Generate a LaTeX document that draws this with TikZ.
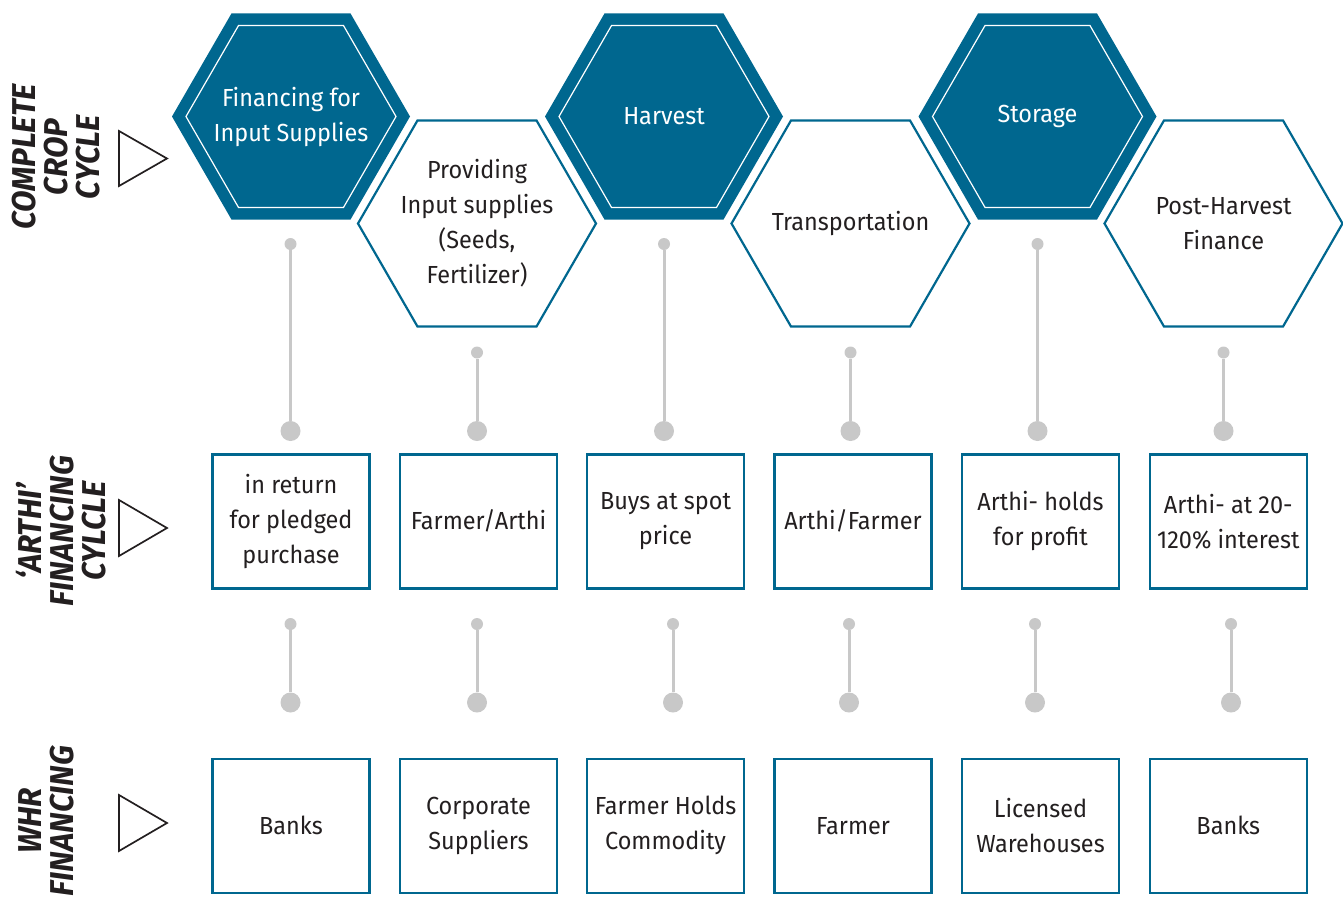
\documentclass[tikz,border=0pt]{standalone}
\usepackage{fontspec}
\setmainfont{Fira Sans}[FakeStretch=0.95]
\usetikzlibrary{shapes.geometric}
\definecolor{tealblue}{RGB}{0,103,143}
\definecolor{dotgrey}{RGB}{200,200,200}
\definecolor{ink}{RGB}{35,31,32}

\begin{document}
\begin{tikzpicture}[x=1pt,y=-1pt,
    hexfill/.style = {regular polygon, regular polygon sides=6, minimum size=238pt,
            inner sep=0pt, fill=tealblue},
    hexin/.style = {regular polygon, regular polygon sides=6, minimum size=210pt,
            inner sep=0pt, draw=white, line width=1.2pt},
    hexline/.style = {regular polygon, regular polygon sides=6, minimum size=238pt,
            inner sep=0pt, draw=tealblue, line width=2.2pt},
    hextext/.style = {align=center, text=#1, inner sep=0pt},
    stage/.style = {rectangle, draw=tealblue, line width=2.4pt, minimum width=157pt,
            minimum height=134pt, inner sep=0pt, text=ink, align=center},
    sdot/.style = {circle, fill=dotgrey, minimum size=12pt, inner sep=0pt},
    bdot/.style = {circle, fill=dotgrey, minimum size=20pt, inner sep=0pt},
    link/.style = {draw=dotgrey, line width=3pt},
    side/.style = {rotate=90, align=center, text=ink,
            font=\fontsize{33}{32}\selectfont\bfseries\itshape},
    tri/.style = {draw=ink, line width=1.7pt, line join=miter},
    font=\fontsize{24.7}{35}\selectfont]
    \useasboundingbox (0,0) rectangle (1343,897);
    % crop cycle
    \node[hexfill] (fin) at (291,116.5) {};
    \node[hexin] (fin-in) at (fin.center) {};
    \node[hextext=white] (fin-t) at (fin.center) {Financing for\\Input Supplies};
    \node[hexline] (prov) at (477,223.5) {};
    \node[hextext=ink] (prov-t) at (prov.center) {Providing\\Input supplies\\(Seeds,\\Fertilizer)};
    \node[hexfill] (harv) at (664,116.5) {};
    \node[hexin] (harv-in) at (harv.center) {};
    \node[hextext=white] (harv-t) at (harv.center) {Harvest};
    \node[hexline] (trans) at (850.5,223.5) {};
    \node[hextext=ink] (trans-t) at (trans.center) {Transportation};
    \node[hexfill] (stor) at (1037.5,116.5) {};
    \node[hexin] (stor-in) at (stor.center) {};
    \node[hextext=white] (stor-t) at (stor.center) {Storage};
    \node[hexline] (post) at (1223.5,223.5) {};
    \node[hextext=ink] (post-t) at (post.center) {Post-Harvest\\Finance};
    % arthi cycle
    \node[stage] (a1) at (291,521.3) {in return\\for pledged\\purchase};
    \node[stage] (a2) at (478.5,521.3) {Farmer/Arthi};
    \node[stage] (a3) at (665.5,521.3) {Buys at spot\\price};
    \node[stage] (a4) at (853,521.3) {Arthi/Farmer};
    \node[stage] (a5) at (1040.5,521.3) {Arthi- holds\\for profit};
    \node[stage] (a6) at (1228.3,521.3) {Arthi- at 20-\\120\% interest};
    % whr financing
    \node[stage] (w1) at (291,825.7) {Banks};
    \node[stage] (w2) at (478.5,825.7) {Corporate\\Suppliers};
    \node[stage] (w3) at (665.5,825.7) {Farmer Holds\\Commodity};
    \node[stage] (w4) at (853,825.7) {Farmer};
    \node[stage] (w5) at (1040.5,825.7) {Licensed\\Warehouses};
    \node[stage] (w6) at (1228.3,825.7) {Banks};
    % connectors
    \node[sdot] (s1) at (290.5,244) {}; \node[bdot] (b1) at (290.5,431) {};
    \node[sdot] (s2) at (477,352.5) {}; \node[bdot] (b2) at (477,431) {};
    \node[sdot] (s3) at (664,244) {}; \node[bdot] (b3) at (664,431) {};
    \node[sdot] (s4) at (850.5,352.5) {}; \node[bdot] (b4) at (850.5,431) {};
    \node[sdot] (s5) at (1037.5,244) {}; \node[bdot] (b5) at (1037.5,431) {};
    \node[sdot] (s6) at (1223.5,352.5) {}; \node[bdot] (b6) at (1223.5,431) {};
    \draw[link] (s1) -- (b1); \draw[link] (s2) -- (b2); \draw[link] (s3) -- (b3);
    \draw[link] (s4) -- (b4); \draw[link] (s5) -- (b5); \draw[link] (s6) -- (b6);
    \node[sdot] (t1) at (290.5,624) {}; \node[bdot] (u1) at (290.5,702.5) {};
    \node[sdot] (t2) at (477,624) {}; \node[bdot] (u2) at (477,702.5) {};
    \node[sdot] (t3) at (673,624) {}; \node[bdot] (u3) at (673,702.5) {};
    \node[sdot] (t4) at (849,624) {}; \node[bdot] (u4) at (849,702.5) {};
    \node[sdot] (t5) at (1035,624) {}; \node[bdot] (u5) at (1035,702.5) {};
    \node[sdot] (t6) at (1231,624) {}; \node[bdot] (u6) at (1231,702.5) {};
    \draw[link] (t1) -- (u1); \draw[link] (t2) -- (u2); \draw[link] (t3) -- (u3);
    \draw[link] (t4) -- (u4); \draw[link] (t5) -- (u5); \draw[link] (t6) -- (u6);
    % row titles
    \node[side] (crop) at (56,157) {COMPLETE\\CROP\\CYCLE};
    \node[side] (arthi) at (61.5,531) {‘ARTHI’\\FINANCING\\CYLCLE};
    \node[side] (whr) at (46,821) {WHR\\FINANCING};
    \draw[tri] (119,131) -- (167,158.5) -- (119,186) -- cycle;
    \draw[tri] (119,500) -- (167,528) -- (119,556) -- cycle;
    \draw[tri] (119,795) -- (167,823) -- (119,851) -- cycle;
\end{tikzpicture}
\end{document}
